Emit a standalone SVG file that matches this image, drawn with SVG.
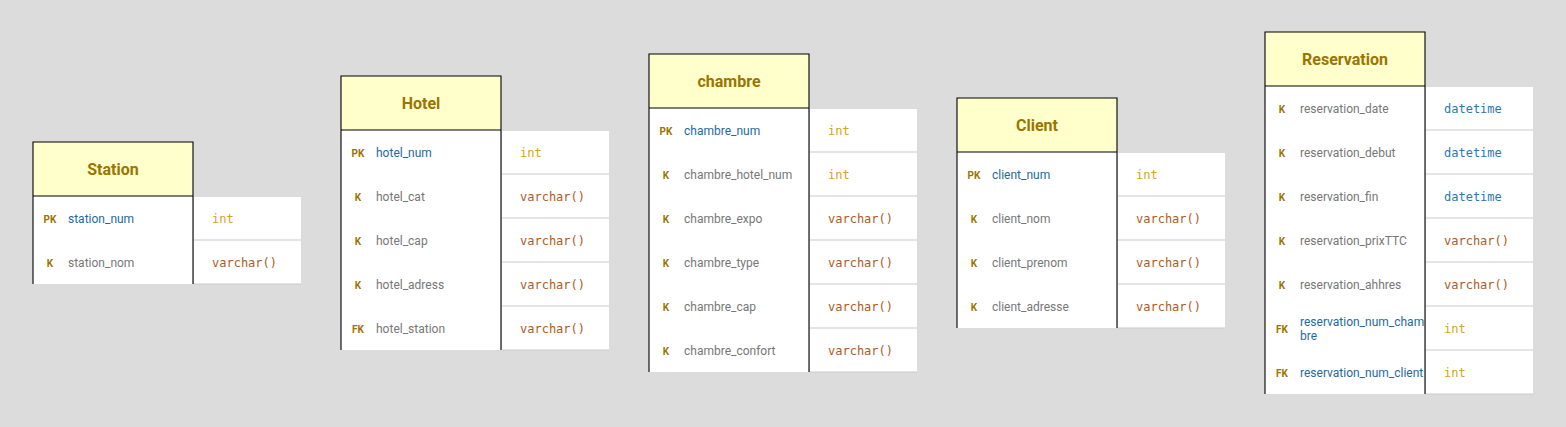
<svg xmlns="http://www.w3.org/2000/svg" width="1566" height="427" viewBox="0 0 1566 427">
<style>
.bg{fill:#dcdcdc}
.hdr{fill:#ffffcc;stroke:none}
.body{fill:#ffffff;stroke:none}
.bd{fill:none;stroke:#000;stroke-width:1.1}
.tcell{fill:#ffffff}
.sep{stroke:#cccccc;stroke-width:1.2}
.title{font-family:Roboto,"Liberation Sans",sans-serif;font-weight:bold;font-size:16px;fill:#9c7400;text-anchor:middle}
.key{font-family:Roboto,"Liberation Sans",sans-serif;font-weight:bold;font-size:10px;fill:#9c7400;text-anchor:middle;transform:translateY(1px)}
.fpk{font-family:Roboto,"Liberation Sans",sans-serif;font-size:12px;fill:#1e6aa0;transform:translateY(1px)}
.fk{font-family:Roboto,"Liberation Sans",sans-serif;font-size:12px;fill:#777777;transform:translateY(1px)}
.tint{font-family:"DejaVu Sans Mono","Liberation Mono",monospace;font-size:12px;fill:#d4a22a}
.tvar{font-family:"DejaVu Sans Mono","Liberation Mono",monospace;font-size:12px;fill:#b05a1c}
.tdt{font-family:"DejaVu Sans Mono","Liberation Mono",monospace;font-size:12px;fill:#2a78b4}
</style>
<rect class="bg" x="0" y="0" width="1566" height="427"/>

<g id="station">
<rect class="hdr" x="33" y="142" width="160" height="54"/>
<rect class="body" x="33" y="196" width="160" height="88"/>
<rect class="tcell" x="194" y="197" width="107" height="87"/>
<line class="sep" x1="194" y1="240" x2="301" y2="240"/>
<line class="sep" x1="194" y1="284" x2="301" y2="284"/>
<path class="bd" d="M33 284V142H193V284M33 196H193"/>
<text class="title" x="113" y="175">Station</text>
<text class="key" x="50" y="222">PK</text><text class="fpk" x="68" y="222">station_num</text><text class="tint" x="212" y="223">int</text>
<text class="key" x="50" y="266">K</text><text class="fk" x="68" y="266">station_nom</text><text class="tvar" x="212" y="267">varchar()</text>
</g>

<g id="hotel">
<rect class="hdr" x="341" y="76" width="160" height="54"/>
<rect class="body" x="341" y="130" width="160" height="220"/>
<rect class="tcell" x="502" y="131" width="107" height="219"/>
<line class="sep" x1="502" y1="174" x2="609" y2="174"/>
<line class="sep" x1="502" y1="218" x2="609" y2="218"/>
<line class="sep" x1="502" y1="262" x2="609" y2="262"/>
<line class="sep" x1="502" y1="306" x2="609" y2="306"/>
<line class="sep" x1="502" y1="350" x2="609" y2="350"/>
<path class="bd" d="M341 350V76H501V350M341 130H501"/>
<text class="title" x="421" y="109">Hotel</text>
<text class="key" x="358" y="156">PK</text><text class="fpk" x="376" y="156">hotel_num</text><text class="tint" x="520" y="157">int</text>
<text class="key" x="358" y="200">K</text><text class="fk" x="376" y="200">hotel_cat</text><text class="tvar" x="520" y="201">varchar()</text>
<text class="key" x="358" y="244">K</text><text class="fk" x="376" y="244">hotel_cap</text><text class="tvar" x="520" y="245">varchar()</text>
<text class="key" x="358" y="288">K</text><text class="fk" x="376" y="288">hotel_adress</text><text class="tvar" x="520" y="289">varchar()</text>
<text class="key" x="358" y="332">FK</text><text class="fk" x="376" y="332">hotel_station</text><text class="tvar" x="520" y="333">varchar()</text>
</g>

<g id="chambre">
<rect class="hdr" x="649" y="54" width="160" height="54"/>
<rect class="body" x="649" y="108" width="160" height="264"/>
<rect class="tcell" x="810" y="109" width="107" height="263"/>
<line class="sep" x1="810" y1="152" x2="917" y2="152"/>
<line class="sep" x1="810" y1="196" x2="917" y2="196"/>
<line class="sep" x1="810" y1="240" x2="917" y2="240"/>
<line class="sep" x1="810" y1="284" x2="917" y2="284"/>
<line class="sep" x1="810" y1="328" x2="917" y2="328"/>
<line class="sep" x1="810" y1="372" x2="917" y2="372"/>
<path class="bd" d="M649 372V54H809V372M649 108H809"/>
<text class="title" x="729" y="87">chambre</text>
<text class="key" x="666" y="134">PK</text><text class="fpk" x="684" y="134">chambre_num</text><text class="tint" x="828" y="135">int</text>
<text class="key" x="666" y="178">K</text><text class="fk" x="684" y="178">chambre_hotel_num</text><text class="tint" x="828" y="179">int</text>
<text class="key" x="666" y="222">K</text><text class="fk" x="684" y="222">chambre_expo</text><text class="tvar" x="828" y="223">varchar()</text>
<text class="key" x="666" y="266">K</text><text class="fk" x="684" y="266">chambre_type</text><text class="tvar" x="828" y="267">varchar()</text>
<text class="key" x="666" y="310">K</text><text class="fk" x="684" y="310">chambre_cap</text><text class="tvar" x="828" y="311">varchar()</text>
<text class="key" x="666" y="354">K</text><text class="fk" x="684" y="354">chambre_confort</text><text class="tvar" x="828" y="355">varchar()</text>
</g>

<g id="client">
<rect class="hdr" x="957" y="98" width="160" height="54"/>
<rect class="body" x="957" y="152" width="160" height="176"/>
<rect class="tcell" x="1118" y="153" width="107" height="175"/>
<line class="sep" x1="1118" y1="196" x2="1225" y2="196"/>
<line class="sep" x1="1118" y1="240" x2="1225" y2="240"/>
<line class="sep" x1="1118" y1="284" x2="1225" y2="284"/>
<line class="sep" x1="1118" y1="328" x2="1225" y2="328"/>
<path class="bd" d="M957 328V98H1117V328M957 152H1117"/>
<text class="title" x="1037" y="131">Client</text>
<text class="key" x="974" y="178">PK</text><text class="fpk" x="992" y="178">client_num</text><text class="tint" x="1136" y="179">int</text>
<text class="key" x="974" y="222">K</text><text class="fk" x="992" y="222">client_nom</text><text class="tvar" x="1136" y="223">varchar()</text>
<text class="key" x="974" y="266">K</text><text class="fk" x="992" y="266">client_prenom</text><text class="tvar" x="1136" y="267">varchar()</text>
<text class="key" x="974" y="310">K</text><text class="fk" x="992" y="310">client_adresse</text><text class="tvar" x="1136" y="311">varchar()</text>
</g>

<g id="reservation">
<rect class="hdr" x="1265" y="32" width="160" height="54"/>
<rect class="body" x="1265" y="86" width="160" height="308"/>
<rect class="tcell" x="1426" y="87" width="107" height="307"/>
<line class="sep" x1="1426" y1="130" x2="1533" y2="130"/>
<line class="sep" x1="1426" y1="174" x2="1533" y2="174"/>
<line class="sep" x1="1426" y1="218" x2="1533" y2="218"/>
<line class="sep" x1="1426" y1="262" x2="1533" y2="262"/>
<line class="sep" x1="1426" y1="306" x2="1533" y2="306"/>
<line class="sep" x1="1426" y1="350" x2="1533" y2="350"/>
<line class="sep" x1="1426" y1="394" x2="1533" y2="394"/>
<path class="bd" d="M1265 394V32H1425V394M1265 86H1425"/>
<text class="title" x="1345" y="65">Reservation</text>
<text class="key" x="1282" y="112">K</text><text class="fk" x="1300" y="112">reservation_date</text><text class="tdt" x="1444" y="113">datetime</text>
<text class="key" x="1282" y="156">K</text><text class="fk" x="1300" y="156">reservation_debut</text><text class="tdt" x="1444" y="157">datetime</text>
<text class="key" x="1282" y="200">K</text><text class="fk" x="1300" y="200">reservation_fin</text><text class="tdt" x="1444" y="201">datetime</text>
<text class="key" x="1282" y="244">K</text><text class="fk" x="1300" y="244">reservation_prixTTC</text><text class="tvar" x="1444" y="245">varchar()</text>
<text class="key" x="1282" y="288">K</text><text class="fk" x="1300" y="288">reservation_ahhres</text><text class="tvar" x="1444" y="289">varchar()</text>
<text class="key" x="1282" y="332">FK</text><text class="fpk" x="1300" y="325">reservation_num_cham</text><text class="fpk" x="1300" y="339">bre</text><text class="tint" x="1444" y="333">int</text>
<text class="key" x="1282" y="376">FK</text><text class="fpk" x="1300" y="376">reservation_num_client</text><text class="tint" x="1444" y="377">int</text>
</g>

<g id="connectors"></g>
</svg>
